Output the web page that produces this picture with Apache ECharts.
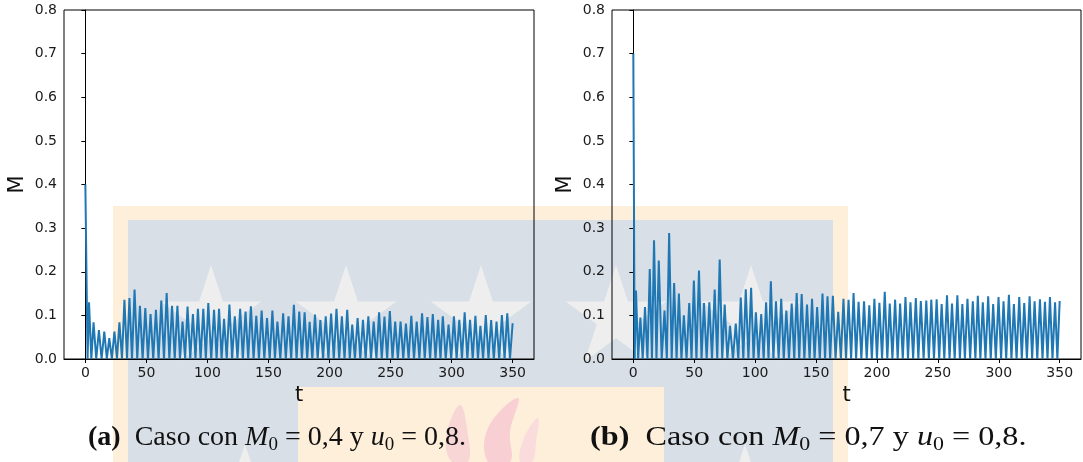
<!DOCTYPE html>
<html>
<head>
<meta charset="utf-8">
<script src="https://cdn.jsdelivr.net/npm/echarts@6/dist/echarts.min.js"></script>
<style>
html,body{margin:0;padding:0;background:#fff;}
#chart{width:1083px;height:462px;}
</style>
</head>
<body>
<div id="chart"></div>
<script>
// ---------- DATA ----------
const xTickValues = [0, 50, 100, 150, 200, 250, 300, 350];
const yTickValues = [0, 0.1, 0.2, 0.3, 0.4, 0.5, 0.6, 0.7, 0.8];

// (a) M0 = 0.4
const aStart = [0, 0.40];
const aEnd = [350, 0.082];
const aTroughT = [1.8, 4.9, 8.9, 13.3, 17.6, 21.7, 25.9, 30.0, 34.1, 38.2,
  42.5, 46.9, 51.3, 55.6, 60.0, 64.4, 68.8, 73.2, 77.5, 81.7,
  85.9, 90.2, 94.4, 98.7, 103.1, 107.5, 111.6, 115.8, 120.2, 124.6,
  129.0, 133.4, 137.8, 142.2, 146.6, 151.0, 155.3, 159.7, 164.2, 168.6,
  173.0, 177.4, 181.7, 185.9, 190.3, 194.7, 199.1, 203.5, 207.9, 212.3,
  216.6, 220.8, 225.2, 229.6, 234.0, 238.4, 242.8, 247.2, 251.6, 256.0,
  260.4, 264.8, 269.2, 273.6, 278.0, 282.4, 286.8, 290.9, 295.2, 299.7,
  304.1, 308.5, 312.9, 317.3, 321.6, 325.8, 330.2, 334.6, 339.0, 343.4,
  347.8];
const aPeakT = [3.0, 6.7, 11.1, 15.5, 19.6, 23.8, 27.9, 32.0, 36.1, 40.3,
  44.7, 49.1, 53.4, 57.8, 62.2, 66.6, 71.0, 75.4, 79.6, 83.7,
  88.1, 92.2, 96.6, 100.7, 105.4, 109.5, 113.6, 118.0, 122.4, 126.8,
  131.2, 135.6, 140.0, 144.4, 148.8, 153.2, 157.3, 162.0, 166.4, 170.8,
  175.2, 179.6, 183.7, 188.1, 192.5, 196.9, 201.3, 205.7, 210.1, 214.5,
  218.6, 223.0, 227.4, 231.8, 236.2, 240.6, 245.0, 249.4, 253.8, 258.2,
  262.6, 267.0, 271.4, 275.8, 280.2, 284.6, 289.0, 292.8, 297.5, 301.9,
  306.3, 310.7, 315.1, 319.5, 323.6, 328.0, 332.4, 336.8, 341.2, 345.6];
const aPeakM = [0.130, 0.084, 0.066, 0.063, 0.048, 0.063, 0.084, 0.136, 0.140, 0.159,
  0.122, 0.117, 0.103, 0.113, 0.134, 0.151, 0.122, 0.122, 0.086, 0.120,
  0.103, 0.115, 0.115, 0.128, 0.113, 0.115, 0.092, 0.125, 0.098, 0.115,
  0.109, 0.121, 0.099, 0.111, 0.094, 0.111, 0.086, 0.105, 0.098, 0.124,
  0.109, 0.107, 0.085, 0.102, 0.089, 0.098, 0.104, 0.115, 0.098, 0.113,
  0.079, 0.094, 0.090, 0.098, 0.086, 0.107, 0.097, 0.110, 0.086, 0.086,
  0.081, 0.099, 0.086, 0.105, 0.096, 0.103, 0.090, 0.098, 0.079, 0.098,
  0.090, 0.107, 0.090, 0.099, 0.076, 0.101, 0.089, 0.086, 0.101, 0.105];

// (b) M0 = 0.7
const bStart = [0, 0.70];
const bEnd = [350, 0.133];
const bTroughT = [1.1, 4.0, 7.7, 11.6, 15.3, 19.0, 23.3, 27.5, 31.5, 35.5,
  39.5, 43.7, 47.8, 51.8, 56.0, 60.2, 64.6, 68.9, 73.0, 77.2,
  81.8, 86.2, 90.3, 94.5, 98.7, 102.8, 107.0, 111.0, 115.0, 119.3,
  123.5, 127.8, 132.1, 136.2, 140.4, 144.7, 148.8, 153.1, 157.4, 161.6,
  166.0, 170.4, 174.6, 178.8, 182.9, 187.2, 191.6, 195.8, 200.0, 204.2,
  208.5, 212.7, 217.0, 221.2, 225.5, 229.7, 234.0, 238.3, 242.6, 246.8,
  251.1, 255.3, 259.6, 263.8, 268.1, 272.2, 276.5, 280.8, 284.9, 289.1,
  293.4, 297.6, 301.9, 306.1, 310.4, 314.6, 318.9, 323.1, 327.4, 331.6,
  335.9, 340.0, 344.1, 348.1];
const bPeakT = [2.2, 5.8, 9.6, 13.5, 17.0, 20.9, 25.6, 29.4, 33.5, 37.4,
  41.5, 45.9, 49.7, 53.9, 58.0, 62.4, 66.8, 70.9, 75.0, 79.4,
  84.1, 88.2, 92.3, 96.7, 100.6, 105.0, 109.0, 112.9, 117.1, 121.4,
  125.6, 130.0, 134.1, 138.2, 142.6, 146.7, 150.9, 155.3, 159.4, 163.8,
  168.2, 172.5, 176.7, 180.8, 184.9, 189.4, 193.7, 197.9, 202.0, 206.4,
  210.5, 214.9, 219.0, 223.4, 227.5, 231.9, 236.0, 240.5, 244.6, 249.0,
  253.1, 257.5, 261.6, 266.0, 270.1, 274.3, 278.7, 282.8, 286.9, 291.3,
  295.4, 299.8, 303.9, 308.3, 312.4, 316.8, 320.9, 325.3, 329.4, 333.8,
  337.9, 342.0, 346.2];
const bPeakM = [0.157, 0.095, 0.119, 0.206, 0.272, 0.226, 0.111, 0.289, 0.174, 0.150,
  0.100, 0.128, 0.180, 0.203, 0.128, 0.130, 0.159, 0.228, 0.125, 0.076,
  0.081, 0.141, 0.160, 0.163, 0.107, 0.103, 0.130, 0.178, 0.132, 0.138,
  0.111, 0.127, 0.151, 0.149, 0.125, 0.138, 0.119, 0.150, 0.144, 0.145,
  0.108, 0.138, 0.136, 0.151, 0.131, 0.132, 0.123, 0.138, 0.129, 0.154,
  0.127, 0.136, 0.127, 0.142, 0.130, 0.140, 0.133, 0.134, 0.136, 0.137,
  0.126, 0.146, 0.127, 0.146, 0.126, 0.138, 0.132, 0.145, 0.130, 0.144,
  0.126, 0.142, 0.132, 0.147, 0.126, 0.142, 0.128, 0.144, 0.132, 0.137,
  0.131, 0.142, 0.130];

const captionA = ['(a)', 'Caso con ', 'M', '0', ' = 0,4 y ', 'u', '0', ' = 0,8.'];
const captionB = ['(b)', 'Caso con ', 'M', '0', ' = 0,7 y ', 'u', '0', ' = 0,8.'];

// ---------- BUILD ----------
function buildLine(start, troughT, peakT, peakM, end) {
  const d = [start];
  for (let i = 0; i < peakT.length; i++) {
    d.push([troughT[i], 0]);
    d.push([peakT[i], peakM[i]]);
  }
  d.push([troughT[troughT.length - 1], 0]);
  d.push(end);
  return d;
}
const dataA = buildLine(aStart, aTroughT, aPeakT, aPeakM, aEnd);
const dataB = buildLine(bStart, bTroughT, bPeakT, bPeakM, bEnd);

const chart = echarts.init(document.getElementById('chart'), null, {renderer: 'canvas'});

const tickFont = {color: '#1a1a1a', fontSize: 14, fontFamily: 'DejaVu Sans'};
function xAxis(gi) {
  return {
    type: 'value', gridIndex: gi, min: -17.5, max: 367.5,
    name: 't', nameLocation: 'middle', nameGap: 21,
    nameTextStyle: {color: '#111', fontSize: 21, fontFamily: 'DejaVu Sans'},
    axisLine: {show: true, lineStyle: {color: '#000', width: 1}},
    axisTick: {show: true, length: 4, lineStyle: {color: '#000'}, customValues: xTickValues},
    axisLabel: Object.assign({margin: 7, customValues: xTickValues}, tickFont),
    splitLine: {show: false}
  };
}
function yAxis(gi) {
  return {
    type: 'value', gridIndex: gi, min: 0, max: 0.8,
    name: 'M', nameLocation: 'middle', nameGap: 36, nameRotate: 90,
    nameTextStyle: {color: '#111', fontSize: 21, fontFamily: 'DejaVu Sans'},
    axisLine: {show: true, lineStyle: {color: '#000', width: 1}},
    axisTick: {show: true, length: 4, lineStyle: {color: '#000'}, customValues: yTickValues},
    axisLabel: Object.assign({margin: 7, customValues: yTickValues, formatter: v => v.toFixed(1)}, tickFont),
    splitLine: {show: false}
  };
}

function starPoints(cx, cy, R) {
  const r = R * 0.382, pts = [];
  for (let k = 0; k < 10; k++) {
    const ang = -Math.PI / 2 + k * Math.PI / 5;
    const rad = k % 2 === 0 ? R : r;
    pts.push([cx + rad * Math.cos(ang), cy + rad * Math.sin(ang)]);
  }
  return pts;
}

const peach = '#fdefd9', blue = '#d8dfe7', starCol = '#eeeeee';
const wm = [
  {type: 'rect', z: -30, shape: {x: 113, y: 206, width: 735, height: 260}, style: {fill: peach}},
  {type: 'rect', z: -29, shape: {x: 128, y: 220, width: 705, height: 250}, style: {fill: blue}},
  {type: 'rect', z: -28, shape: {x: 298, y: 387, width: 366, height: 80}, style: {fill: peach}}
];
[[211, 318], [346, 318], [481, 318], [616, 318], [751, 318], [245, 497], [745, 497]].forEach(c => {
  wm.push({type: 'polygon', z: -27, shape: {points: starPoints(c[0], c[1], 53)}, style: {fill: starCol}});
});
// flame (decorative)
wm.push({type: 'polygon', z: -26, shape: {smooth: 0.4, points: [[452, 462], [446, 438], [460, 405], [468, 435], [468, 462]]}, style: {fill: '#f9d6d6'}});
wm.push({type: 'polygon', z: -26, shape: {smooth: 0.4, points: [[488, 462], [488, 428], [518, 398], [510, 432], [510, 462]]}, style: {fill: '#f8cfd2'}});
wm.push({type: 'polygon', z: -26, shape: {smooth: 0.4, points: [[520, 462], [524, 438], [538, 418], [536, 442], [532, 462]]}, style: {fill: '#fadcdc'}});

function caption(parts, x, sx) {
  const serif = 'Liberation Serif';
  return {
    type: 'text', z: 10, x: x, y: 438, scaleX: sx,
    style: {
      text: '{b|' + parts[0] + '}{n|  ' + parts[1] + '}{i|' + parts[2] + '}{s|' + parts[3] + '}{n|' + parts[4] + '}{i|' + parts[5] + '}{s|' + parts[6] + '}{n|' + parts[7] + '}',
      verticalAlign: 'middle', align: 'left',
      rich: {
        b: {fontFamily: serif, fontWeight: 'bold', fontSize: 28, lineHeight: 34, fill: '#111'},
        n: {fontFamily: serif, fontSize: 28, lineHeight: 34, fill: '#111'},
        i: {fontFamily: serif, fontStyle: 'italic', fontSize: 28, lineHeight: 34, fill: '#111'},
        s: {fontFamily: serif, fontSize: 19, lineHeight: 22, verticalAlign: 'bottom', fill: '#111'}
      }
    }
  };
}

const option = {
  animation: false,
  backgroundColor: 'transparent',
  grid: [
    {left: 64, top: 10, width: 470, height: 349, show: true, borderColor: '#000', borderWidth: 1, backgroundColor: 'transparent'},
    {left: 612, top: 10, width: 469, height: 349, show: true, borderColor: '#000', borderWidth: 1, backgroundColor: 'transparent'}
  ],
  xAxis: [xAxis(0), xAxis(1)],
  yAxis: [yAxis(0), yAxis(1)],
  series: [
    {type: 'line', xAxisIndex: 0, yAxisIndex: 0, data: dataA, showSymbol: false, lineStyle: {color: '#1f77b4', width: 2}, itemStyle: {color: '#1f77b4'}},
    {type: 'line', xAxisIndex: 1, yAxisIndex: 1, data: dataB, showSymbol: false, lineStyle: {color: '#1f77b4', width: 2}, itemStyle: {color: '#1f77b4'}}
  ],
  graphic: {elements: wm.concat([caption(captionA, 88, 1.0), caption(captionB, 590, 1.15)])}
};
chart.setOption(option);
</script>
</body>
</html>
